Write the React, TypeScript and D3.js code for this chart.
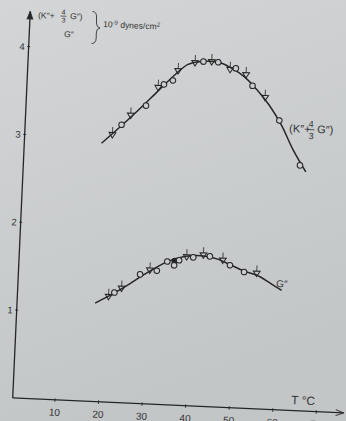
import React from "react";
import * as d3 from "d3";

// Upper series (K'' + 4/3 G''), 10^-9 dynes/cm^2
const tempK = [20.4, 22.4, 24.4, 27.8, 30.4, 31.7, 33.7, 34.8, 38.6, 40.5, 42.4, 43.9, 46.7, 48.0, 50.4, 52.0, 55.0, 58.5, 63.7];
const valK = [3.04, 3.16, 3.27, 3.39, 3.6, 3.64, 3.69, 3.8, 3.9, 3.92, 3.92, 3.92, 3.84, 3.86, 3.79, 3.67, 3.54, 3.29, 2.79];
const markK = ["t", "c", "t", "c", "t", "c", "c", "t", "t", "c", "t", "c", "t", "c", "t", "c", "t", "c", "c"];
const fitKT = [18, 22, 26, 30, 34, 37, 40, 44, 47, 50, 53, 56, 59, 62, 65.1];
const fitKV = [2.94, 3.13, 3.33, 3.54, 3.75, 3.88, 3.92, 3.92, 3.86, 3.77, 3.63, 3.46, 3.24, 2.96, 2.72];

// Lower series G''
const tempG = [21.2, 22.5, 24.1, 28.2, 30.4, 32.0, 34.3, 36.0, 35.9, 37.0, 38.7, 40.2, 42.5, 44.0, 47.0, 48.7, 52.0, 54.9];
const valG = [1.2, 1.25, 1.3, 1.47, 1.52, 1.52, 1.63, 1.64, 1.59, 1.65, 1.69, 1.69, 1.72, 1.71, 1.67, 1.62, 1.55, 1.54];
const markG = ["t", "c", "t", "c", "t", "c", "c", "f", "c", "c", "t", "c", "t", "c", "t", "c", "c", "t"];
const fitGT = [18.2, 22, 26, 30, 34, 37, 40, 43, 46, 49, 52, 55, 58, 60.8];
const fitGV = [1.12, 1.23, 1.36, 1.5, 1.62, 1.68, 1.71, 1.71, 1.68, 1.62, 1.56, 1.52, 1.44, 1.36];

const xTicks = [10, 20, 30, 40, 50, 60, 70];
const yTicks = [1, 2, 3, 4];

const INK = "#262626";
const ANG = 2.6;

const x = d3.scaleLinear().domain([0, 76]).range([-2.6, -2.6 + 4.36 * 76]);
const y = d3.scaleLinear().domain([0, 4.39]).range([0, -386]);

const line = d3
  .line<[number, number]>()
  .x((d) => x(d[0]))
  .y((d) => y(d[1]))
  .curve(d3.curveCatmullRom.alpha(0.5));

function Marker({ t, v, m }: { t: number; v: number; m: string }) {
  const cx = x(t);
  const cy = y(v);
  if (m === "t") {
    const s = 3.4;
    return (
      <g>
        <path
          d={`M${cx - s},${cy - s * 0.7} L${cx + s},${cy - s * 0.7} L${cx},${cy + s * 0.9} Z`}
          fill="none"
          stroke={INK}
          strokeWidth={1}
        />
        <line x1={cx} x2={cx} y1={cy - s * 0.7} y2={cy - 8} stroke={INK} strokeWidth={0.8} />
      </g>
    );
  }
  return (
    <circle
      cx={cx}
      cy={cy}
      r={2.8}
      fill={m === "f" ? INK : "#cbcdce"}
      stroke={INK}
      strokeWidth={1}
    />
  );
}

function RText({ x: tx, y: ty, size, children, anchor }: any) {
  return (
    <text
      transform={`translate(${tx},${ty}) rotate(${ANG})`}
      fontSize={size}
      fill="#333"
      textAnchor={anchor || "start"}
      fontFamily="Liberation Sans, Arial, sans-serif"
    >
      {children}
    </text>
  );
}

export default function App() {
  const kPts = tempK.map((t, i) => ({ t, v: valK[i], m: markK[i] }));
  const gPts = tempG.map((t, i) => ({ t, v: valG[i], m: markG[i] }));
  const fitK = fitKT.map((t, i) => [t, fitKV[i]] as [number, number]);
  const fitG = fitGT.map((t, i) => [t, fitGV[i]] as [number, number]);
  const yAxisX = x(0.3);
  const xEnd = 330;
  const yTop = -387;

  return (
    <svg
      width={346}
      height={421}
      style={{ position: "absolute", left: 0, top: 0 }}
      fontFamily="Liberation Sans, Arial, sans-serif"
    >
      <defs>
        <linearGradient id="bg" x1="0" y1="0" x2="0.3" y2="1">
          <stop offset="0" stopColor="#d3d5d6" />
          <stop offset="1" stopColor="#c3c6c7" />
        </linearGradient>
      </defs>
      <rect width={346} height={421} fill="url(#bg)" />

      <g transform={`translate(14,398) rotate(${ANG})`}>
        {/* axes */}
        <line x1={yAxisX} x2={yAxisX} y1={0} y2={yTop} stroke={INK} strokeWidth={1.3} />
        <path d={`M${yAxisX - 3},${yTop + 8} L${yAxisX},${yTop} L${yAxisX + 3},${yTop + 8}`} fill={INK} stroke={INK} strokeWidth={0.8} />
        <line x1={yAxisX} x2={xEnd} y1={0} y2={0} stroke={INK} strokeWidth={1.3} />
        <path d={`M${xEnd - 8},-3 L${xEnd},0 L${xEnd - 8},3`} fill="none" stroke={INK} strokeWidth={0.9} />

        {xTicks.map((t) => (
          <g key={"xt" + t}>
            <line x1={x(t)} x2={x(t)} y1={-1.5} y2={2} stroke={INK} strokeWidth={0.9} />
            <text x={x(t)} y={16} fontSize={10} textAnchor="middle" fill="#333">
              {t}
            </text>
          </g>
        ))}
        {yTicks.map((v) => (
          <g key={"yt" + v}>
            <line x1={yAxisX - 1.5} x2={yAxisX + 1.5} y1={y(v)} y2={y(v)} stroke={INK} strokeWidth={0.9} />
            <text x={yAxisX - 4} y={y(v) + 3.5} fontSize={9.5} textAnchor="end" fill="#333">
              {v}
            </text>
          </g>
        ))}

        {/* fitted curves */}
        <path d={line(fitK) || ""} fill="none" stroke={INK} strokeWidth={1.5} />
        <path d={line(fitG) || ""} fill="none" stroke={INK} strokeWidth={1.5} />

        {kPts.map((p, i) => (
          <Marker key={"k" + i} t={p.t} v={p.v} m={p.m} />
        ))}
        {gPts.map((p, i) => (
          <Marker key={"g" + i} t={p.t} v={p.v} m={p.m} />
        ))}
      </g>

      {/* axis label */}
      <RText x={291} y={404} size={12}>T °C</RText>

      {/* top-left y-axis label */}
      <RText x={38} y={18} size={8.5}>(K″+</RText>
      <RText x={63.5} y={14.5} size={7} anchor="middle">4</RText>
      <line x1={60.5} x2={66.5} y1={16} y2={16.3} stroke="#333" strokeWidth={0.7} />
      <RText x={63.5} y={22.5} size={7} anchor="middle">3</RText>
      <RText x={70} y={19} size={8.5}>G″)</RText>
      <RText x={64} y={37} size={8.5}>G″</RText>
      <path
        d="M92.5,11.5 Q97,11.5 96.5,18 L96.5,23 Q96.5,27.5 100,28 Q96.3,28.5 96.3,33 L96.2,38 Q96,43.5 91.5,43.5"
        fill="none"
        stroke="#333"
        strokeWidth={0.9}
      />
      <RText x={103} y={27} size={8.5}>
        10<tspan dy={-3} fontSize={6}>-9</tspan>
        <tspan dy={3}> dynes/cm</tspan>
        <tspan dy={-3} fontSize={6}>2</tspan>
      </RText>

      {/* series labels */}
      <RText x={289} y={132} size={11}>(K″+</RText>
      <RText x={311} y={127} size={9} anchor="middle">4</RText>
      <line x1={307.5} x2={314.5} y1={129.5} y2={129.8} stroke="#333" strokeWidth={0.8} />
      <RText x={311} y={139} size={9} anchor="middle">3</RText>
      <RText x={317} y={133} size={11}>G″)</RText>
      <RText x={276} y={287} size={10}>G″</RText>
    </svg>
  );
}
